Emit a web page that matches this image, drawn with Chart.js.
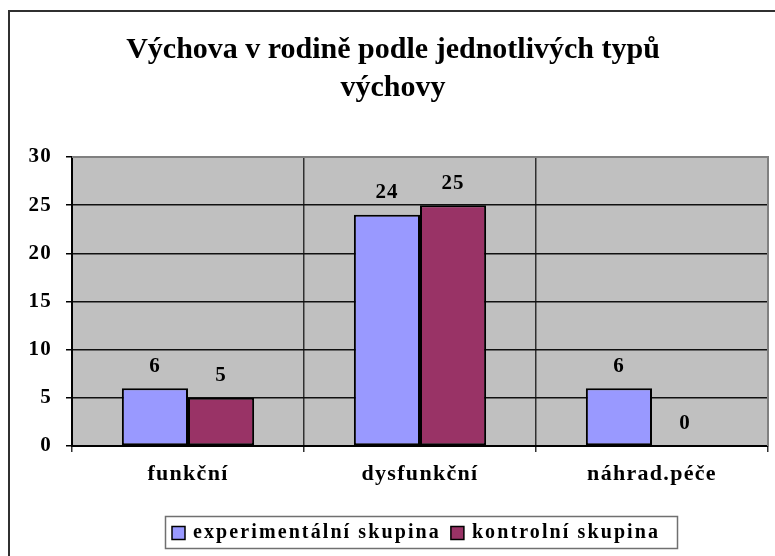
<!DOCTYPE html>
<html>
<head>
<meta charset="utf-8">
<script src="https://cdn.jsdelivr.net/npm/chart.js@4"></script>
<style>
  html, body { margin: 0; padding: 0; background: #fff; overflow: hidden; }
  #wrap { width: 775px; height: 556px; position: relative; }
</style>
</head>
<body>
<div id="wrap"><canvas id="graf" width="775" height="556"></canvas></div>
<script>
// Data
const kategorie = ['funkční', 'dysfunkční', 'náhrad.péče'];
const experimentalni = [6, 24, 6];
const kontrolni = [5, 25, 0];
const nazvySkupin = ['experimentální skupina', 'kontrolní skupina'];
const titulek = ['Výchova v rodině podle jednotlivých typů', 'výchovy'];

const PISMO = '"Liberation Serif", "Times New Roman", serif';

// Pozadí, rámeček, titulek
const pozadiPlugin = {
    id: 'pozadi',
    beforeDraw(chart) {
        const { ctx, chartArea } = chart;
        ctx.save();
        ctx.fillStyle = '#fff';
        ctx.fillRect(0, 0, chart.width, chart.height);
        // vnější rámeček (jen horní a levá hrana jsou vidět)
        ctx.strokeStyle = '#303030';
        ctx.lineWidth = 2;
        ctx.beginPath();
        ctx.moveTo(9, chart.height + 5);
        ctx.lineTo(9, 11);
        ctx.lineTo(chart.width + 5, 11);
        ctx.stroke();
        // šedá plocha grafu
        ctx.fillStyle = '#C0C0C0';
        ctx.fillRect(chartArea.left, chartArea.top, chartArea.right - chartArea.left, chartArea.bottom - chartArea.top);
        // titulek
        ctx.fillStyle = '#000';
        ctx.font = 'bold 30px ' + PISMO;
        ctx.textAlign = 'center';
        ctx.textBaseline = 'middle';
        ctx.fillText(titulek[0], 393, 50);
        ctx.fillText(titulek[1], 393, 88);
        ctx.restore();
        // prostrkání popisků os
        ctx.letterSpacing = '1.3px';
    },
    beforeDatasetsDraw(chart) {
        chart.ctx.letterSpacing = '0px';
    },
    afterDraw(chart) {
        const { ctx, chartArea } = chart;
        ctx.save();
        ctx.strokeStyle = '#808080';
        ctx.lineWidth = 2;
        ctx.beginPath();
        ctx.moveTo(chartArea.left, chartArea.top);
        ctx.lineTo(chartArea.right, chartArea.top);
        ctx.lineTo(chartArea.right, chartArea.bottom);
        ctx.stroke();
        ctx.restore();
    }
};

// Popisky hodnot nad sloupci
const popiskyPlugin = {
    id: 'popisky',
    afterDatasetsDraw(chart) {
        const { ctx } = chart;
        ctx.save();
        ctx.fillStyle = '#000';
        ctx.font = 'bold 21px ' + PISMO;
        ctx.letterSpacing = '1px';
        ctx.textAlign = 'center';
        ctx.textBaseline = 'middle';
        chart.data.datasets.forEach((ds, i) => {
            chart.getDatasetMeta(i).data.forEach((bar, j) => {
                ctx.fillText(String(ds.data[j]), bar.x, bar.y - 22);
            });
        });
        ctx.restore();
    }
};

// Legenda v rámečku
const legendaPlugin = {
    id: 'legenda',
    afterDraw(chart) {
        const { ctx } = chart;
        const sady = chart.data.datasets;
        ctx.save();
        ctx.font = 'bold 20px ' + PISMO;
        ctx.letterSpacing = '2.1px';
        const ctverec = 13;
        const mezera = 8;
        const odstup = 10;
        const boxL = 165, boxT = 516, boxW = 512, boxH = 32;
        ctx.strokeStyle = '#707070';
        ctx.lineWidth = 1.5;
        ctx.strokeRect(boxL + 0.5, boxT + 0.5, boxW, boxH);
        let x = boxL + 7;
        const stred = boxT + boxH / 2 + 1;
        sady.forEach((ds) => {
            ctx.fillStyle = ds.backgroundColor;
            ctx.fillRect(x, stred - ctverec / 2, ctverec, ctverec);
            ctx.strokeStyle = '#000';
            ctx.lineWidth = 1.5;
            ctx.strokeRect(x, stred - ctverec / 2, ctverec, ctverec);
            x += ctverec + mezera;
            ctx.fillStyle = '#000';
            ctx.textAlign = 'left';
            ctx.textBaseline = 'middle';
            ctx.fillText(ds.label, x, stred);
            x += ctx.measureText(ds.label).width + odstup;
        });
        ctx.restore();
    }
};

new Chart(document.getElementById('graf'), {
    type: 'bar',
    data: {
        labels: kategorie,
        datasets: [
            {
                label: nazvySkupin[0],
                data: experimentalni,
                backgroundColor: '#9999FF',
                borderColor: '#000',
                borderWidth: 2,
                borderSkipped: false
            },
            {
                label: nazvySkupin[1],
                data: kontrolni,
                backgroundColor: '#993366',
                borderColor: '#000',
                borderWidth: 2,
                borderSkipped: false
            }
        ]
    },
    options: {
        responsive: false,
        animation: false,
        layout: { padding: { top: 157, right: 7, bottom: 60, left: 0 } },
        datasets: { bar: { categoryPercentage: 0.57, barPercentage: 1.0 } },
        plugins: {
            legend: { display: false },
            title: { display: false },
            tooltip: { enabled: false }
        },
        scales: {
            x: {
                grid: {
                    offset: true,
                    color: '#303030',
                    lineWidth: 1.5,
                    tickLength: 6,
                    tickColor: '#303030'
                },
                border: { color: '#000', width: 2 },
                ticks: {
                    color: '#000',
                    font: { family: PISMO, size: 22, weight: 'bold' },
                    padding: 9,
                    maxRotation: 0
                },
                afterFit(scale) { scale.height = 50; }
            },
            y: {
                min: 0,
                max: 30,
                grid: {
                    color: '#101010',
                    lineWidth: 1.5,
                    tickLength: 6,
                    tickColor: '#000'
                },
                border: { color: '#000', width: 2 },
                ticks: {
                    stepSize: 5,
                    color: '#000',
                    font: { family: PISMO, size: 21, weight: 'bold' },
                    padding: 14
                },
                afterFit(scale) { scale.width = 72; }
            }
        }
    },
    plugins: [pozadiPlugin, popiskyPlugin, legendaPlugin]
});
</script>
</body>
</html>
